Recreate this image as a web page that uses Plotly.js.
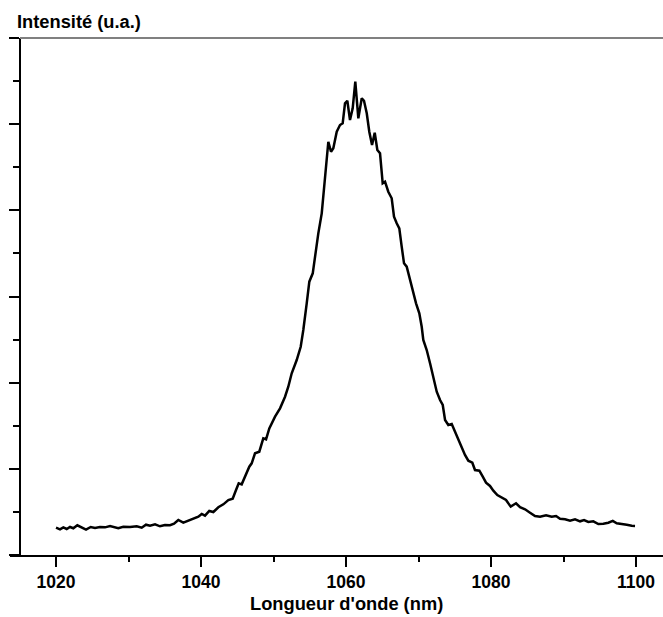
<!DOCTYPE html>
<html>
<head>
<meta charset="utf-8">
<script src="https://cdn.plot.ly/plotly-3.0.1.min.js"></script>
<style>html,body{margin:0;padding:0;background:#fff;}#chart{width:663px;height:617px;}</style>
</head>
<body>
<div id="chart"></div>
<script>
// Wavelength (nm)
const wavelength = [
1020.00,1020.55,1021.01,1021.48,1021.93,1022.39,1022.94,1023.54,1024.14,1024.79,
1025.38,1026.07,1026.76,1027.45,1028.14,1028.59,1029.28,1030.21,1031.13,1031.82,
1032.41,1032.97,1033.66,1034.34,1035.03,1035.72,1036.28,1036.87,1037.56,1038.25,
1038.94,1039.63,1040.10,1040.55,1041.14,1041.70,1042.39,1043.08,1043.77,1044.37,
1044.83,1045.20,1045.61,1046.21,1046.66,1046.99,1047.45,1048.04,1048.59,1048.97,
1049.42,1050.21,1050.90,1051.59,1052.04,1052.51,1053.20,1053.75,1054.11,1054.58,
1054.94,1055.41,1055.72,1056.18,1056.65,1057.10,1057.56,1057.93,1058.25,1058.72,
1059.17,1059.54,1059.86,1060.18,1060.55,1060.92,1061.28,1061.70,1062.17,1062.48,
1062.86,1063.21,1063.59,1063.96,1064.32,1064.69,1065.06,1065.38,1065.83,1066.30,
1066.62,1066.99,1067.35,1067.68,1068.00,1068.37,1068.83,1069.28,1069.66,1070.11,
1070.44,1070.66,1071.13,1071.59,1072.04,1072.51,1072.97,1073.34,1073.66,1074.11,
1074.58,1075.03,1075.49,1075.96,1076.41,1076.87,1077.42,1077.79,1078.39,1078.86,
1079.31,1079.86,1080.32,1080.87,1081.48,1082.07,1082.72,1083.45,1084.00,1084.69,
1085.38,1086.07,1086.76,1087.59,1088.37,1088.97,1089.52,1090.21,1090.90,1091.59,
1092.28,1092.83,1093.42,1094.11,1094.80,1095.49,1096.18,1096.79,1097.34,1098.03,
1098.72,1099.41,1099.86
];
// Intensity (arbitrary units)
const intensity = [
0.317,0.298,0.321,0.302,0.325,0.310,0.345,0.317,0.294,0.325,
0.313,0.325,0.321,0.337,0.325,0.310,0.328,0.325,0.333,0.317,
0.352,0.340,0.356,0.333,0.348,0.345,0.363,0.406,0.375,0.398,
0.426,0.444,0.476,0.456,0.511,0.499,0.554,0.588,0.638,0.653,
0.754,0.832,0.820,0.940,1.025,1.064,1.180,1.199,1.354,1.343,
1.470,1.605,1.702,1.837,1.953,2.109,2.263,2.417,2.611,2.921,
3.172,3.269,3.462,3.733,3.965,4.352,4.796,4.680,4.720,4.912,
4.990,5.010,5.242,5.272,5.048,5.184,5.493,5.068,5.300,5.272,
5.126,4.912,4.758,4.901,4.700,4.662,4.314,4.332,4.216,4.140,
3.926,3.849,3.791,3.578,3.385,3.346,3.191,3.037,2.921,2.805,
2.649,2.495,2.379,2.225,2.051,1.895,1.799,1.741,1.567,1.509,
1.520,1.431,1.335,1.257,1.161,1.094,1.071,0.986,0.978,0.909,
0.839,0.801,0.746,0.696,0.670,0.638,0.561,0.600,0.554,0.530,
0.491,0.453,0.444,0.461,0.444,0.453,0.421,0.414,0.398,0.414,
0.391,0.406,0.383,0.391,0.360,0.363,0.375,0.395,0.368,0.363,
0.352,0.340,0.337
];
const xTickVals = [1020, 1040, 1060, 1080, 1100];
const xTickText = ['1020', '1040', '1060', '1080', '1100'];
const xTitle = "Longueur d'onde (nm)";
const yTitle = "Intensité (u.a.)";

const font = 'Liberation Sans, Arial, Helvetica, sans-serif';

const trace = {
  x: wavelength, y: intensity, type: 'scatter', mode: 'lines',
  line: {color: '#000', width: 2.5, shape: 'linear'},
  hoverinfo: 'skip', showlegend: false
};

const layout = {
  width: 663, height: 617,
  margin: {l: 10, r: 0, t: 38, b: 62},
  paper_bgcolor: '#fff', plot_bgcolor: '#fff',
  xaxis: {
    range: [1013.655, 1103.72],
    tickvals: xTickVals, ticktext: xTickText,
    ticks: 'outside', ticklen: 10, tickwidth: 2, tickcolor: '#000',
    minor: {dtick: 10, tick0: 1020, ticks: 'outside', ticklen: 5, tickwidth: 2, tickcolor: '#000', showgrid: false},
    showline: true, linecolor: '#000', linewidth: 2,
    showgrid: false, zeroline: false,
    tickfont: {family: font, size: 17.5, color: '#000', weight: 'bold'},
    fixedrange: true
  },
  yaxis: {
    range: [0, 6], anchor: 'free', position: 10/653,
    dtick: 1, tick0: 0,
    ticks: 'outside', ticklen: 10, tickwidth: 2, tickcolor: '#000',
    minor: {dtick: 0.5, ticks: 'outside', ticklen: 6, tickwidth: 2, tickcolor: '#000', showgrid: false},
    showticklabels: false,
    showline: true, linecolor: '#000', linewidth: 2,
    showgrid: false, zeroline: false, fixedrange: true
  },
  shapes: [{
    type: 'line', xref: 'paper', yref: 'paper',
    x0: 10/653, x1: 1, y0: 1, y1: 1,
    line: {color: '#808080', width: 2}
  }],
  annotations: [
    {text: xTitle, xref: 'x', yref: 'paper', x: 1060, y: 0,
     xanchor: 'center', yanchor: 'top', yshift: -36, showarrow: false,
     font: {family: font, size: 18.3, color: '#000', weight: 'bold'}},
    {text: yTitle, xref: 'paper', yref: 'paper', x: 0, y: 1,
     xanchor: 'left', yanchor: 'middle', xshift: 5, yshift: 17, showarrow: false,
     font: {family: font, size: 18.3, color: '#000', weight: 'bold'}}
  ]
};

Plotly.newPlot('chart', [trace], layout, {displayModeBar: false, staticPlot: true});
</script>
</body>
</html>
